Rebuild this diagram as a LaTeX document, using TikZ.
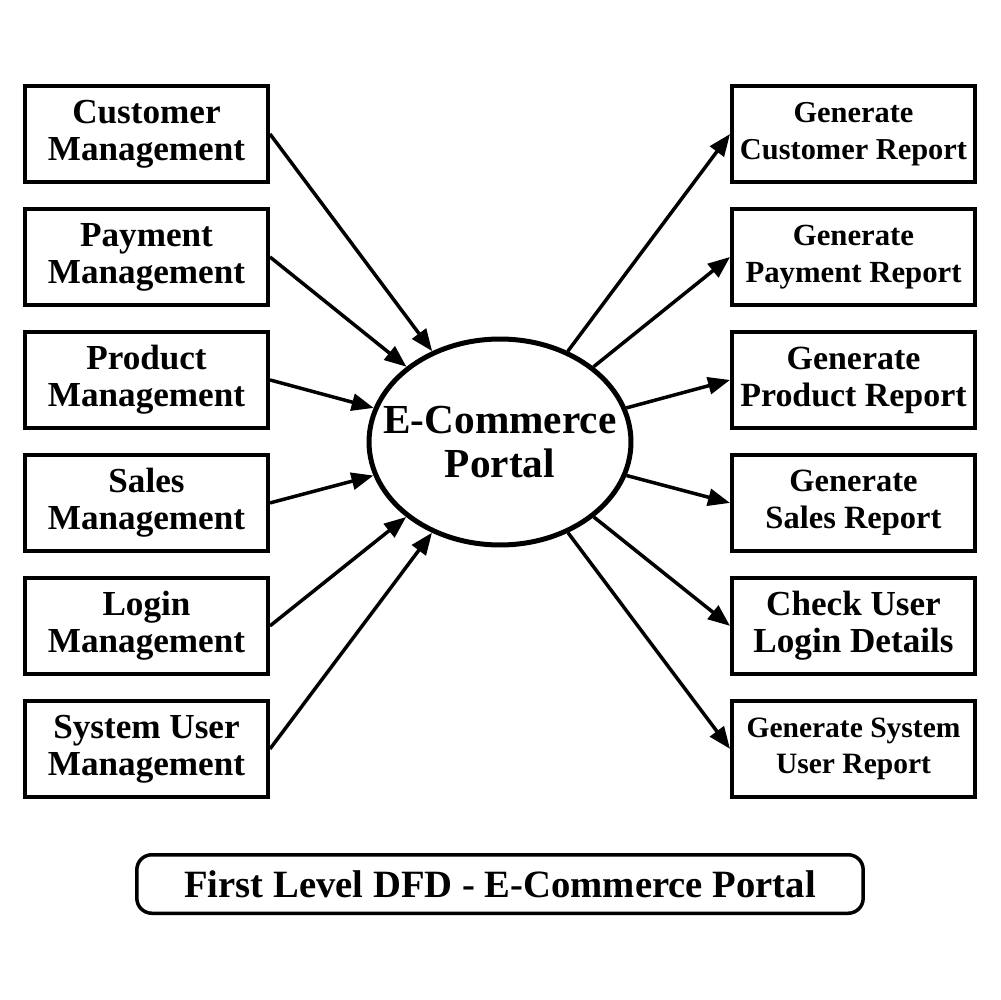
\documentclass[tikz,border=0pt]{standalone}
\usepackage{fontspec}
\setmainfont{Liberation Serif}
\usetikzlibrary{arrows.meta, positioning, shapes.geometric}

\begin{document}
\begin{tikzpicture}[x=0.02cm, y=-0.02cm, processblock/.style={draw, line width=0.075cm, minimum width=4.865cm, minimum height=1.925cm, align=center, inner sep=0pt, font=\bfseries\fontsize{20}{21}\selectfont}, portalblock/.style={draw, ellipse, line width=0.1cm, minimum width=5.24cm, minimum height=4.12cm, align=center, inner xsep=-0.7cm, inner ysep=0pt, font=\bfseries\fontsize{23.5}{25.5}\selectfont}, flow/.style={line width=0.07cm, -{Triangle[length=0.44cm, width=0.34cm]}}, node distance=0.46cm]

	\useasboundingbox (0,0) rectangle (1000,1000);

	% Management processes
	\node[processblock] (custmgmt) at (146.5,134) {Customer\\Management};
	\node[processblock, below=of custmgmt] (paymgmt) {Payment\\Management};
	\node[processblock, below=of paymgmt] (prodmgmt) {Product\\Management};
	\node[processblock, below=of prodmgmt] (salesmgmt) {Sales\\Management};
	\node[processblock, below=of salesmgmt] (loginmgmt) {Login\\Management};
	\node[processblock, below=of loginmgmt] (usermgmt) {System User\\Management};

	% Reports
	\node[processblock, font=\bfseries\fontsize{17.3}{21}\selectfont] (custrep) at (853.5,134) {Generate\\Customer Report};
	\node[processblock, below=of custrep, font=\bfseries\fontsize{17.5}{21}\selectfont] (payrep) {Generate\\Payment Report};
	\node[processblock, below=of payrep, font=\bfseries\fontsize{19.3}{21}\selectfont] (prodrep) {Generate\\Product Report};
	\node[processblock, below=of prodrep, font=\bfseries\fontsize{18.5}{21}\selectfont] (salesrep) {Generate\\Sales Report};
	\node[processblock, below=of salesrep] (loginrep) {Check User\\Login Details};
	\node[processblock, below=of loginrep, font=\bfseries\fontsize{16.8}{21}\selectfont] (userrep) {Generate System\\User Report};

	% Portal
	\node[portalblock] (portal) at (500,442) {E-Commerce\\Portal};

	% Inputs
	\draw[flow] (custmgmt.east) -- (portal);
	\draw[flow] (paymgmt.east) -- (portal);
	\draw[flow] (prodmgmt.east) -- (portal);
	\draw[flow] (salesmgmt.east) -- (portal);
	\draw[flow] (loginmgmt.east) -- (portal);
	\draw[flow] (usermgmt.east) -- (portal);

	% Outputs
	\draw[flow] (portal) -- (custrep.west);
	\draw[flow] (portal) -- (payrep.west);
	\draw[flow] (portal) -- (prodrep.west);
	\draw[flow] (portal) -- (salesrep.west);
	\draw[flow] (portal) -- (loginrep.west);
	\draw[flow] (portal) -- (userrep.west);

	% Caption
	\node[draw, rounded corners=0.3cm, line width=0.07cm, minimum width=14.53cm, minimum height=1.17cm, font=\bfseries\fontsize{22}{24}\selectfont] (caption) at (500,884) {First Level DFD - E-Commerce Portal};

\end{tikzpicture}
\end{document}
